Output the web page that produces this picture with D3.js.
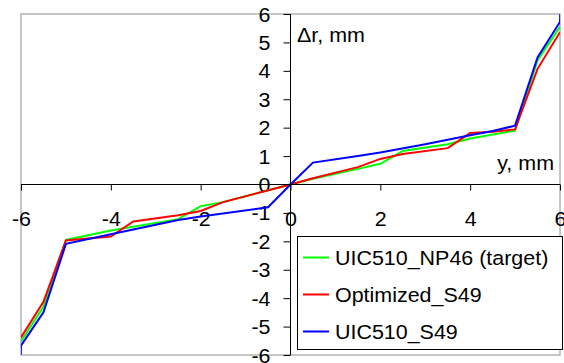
<!DOCTYPE html>
<html><head><meta charset="utf-8">
<script src="https://cdn.jsdelivr.net/npm/d3@7"></script>
<style>body{margin:0;background:#fff}svg{display:block}text{font-family:"Liberation Sans",Arial,sans-serif;font-size:19.5px;fill:#000}</style>
</head><body><svg id="c" width="564" height="363"></svg>
<script>
const xTicks = [-6,-4,-2,0,2,4,6];
const yTicks = [-6,-5,-4,-3,-2,-1,0,1,2,3,4,5,6];
const seriesNames = ["UIC510_NP46 (target)","Optimized_S49","UIC510_S49"];
const seriesColors = ["#00ff00","#ff0000","#0000ff"];
const targetX = [-6,-5.5,-5,-4,-2.5,-2,-1.5,0,0.5,1.5,2,2.5,3.5,4,5,5.5,6];
const targetY = [-5.52,-4.30,-1.95,-1.62,-1.22,-0.76,-0.62,0,0.2,0.55,0.73,1.18,1.42,1.62,1.90,4.37,5.55];
const optX = [-6,-5.5,-5,-4,-3.5,-2.5,-2,-1.5,0,0.5,1.5,2,2.5,3.5,4,4.5,5,5.5,6];
const optY = [-5.38,-4.13,-1.97,-1.83,-1.30,-1.08,-0.93,-0.62,0,0.22,0.61,0.90,1.07,1.28,1.81,1.86,1.94,4.07,5.36];
const s49X = [-6.02,-6,-5.5,-5,-4,-2.5,-2,-0.5,0,0.5,1.5,2,3,4,4.5,5,5.5,6,6.02];
const s49Y = [-6.5,-5.67,-4.50,-2.09,-1.75,-1.25,-1.13,-0.80,0,0.77,1.0,1.13,1.42,1.73,1.88,2.07,4.47,5.72,6.5];
const seriesX = [targetX, optX, s49X];
const seriesY = [targetY, optY, s49Y];

const SX = 1.1; // horizontal stretch of the reference glyphs
const svg = d3.select("#c");
const L=21,R=560,T=14,B=355;
const x = d3.scaleLinear().domain([-6,6]).range([L,R]);
const y = d3.scaleLinear().domain([-6,6]).range([B,T]);

svg.append("defs").append("clipPath").attr("id","pc").append("rect")
  .attr("x",L).attr("y",T).attr("width",R-L).attr("height",B-T);

svg.append("rect").attr("x",L).attr("y",T).attr("width",R-L).attr("height",B-T)
  .attr("fill","none").attr("stroke","#a0a0a0").attr("stroke-width",1.2);

const fmt = d => String(d);
// x axis at y=0
const xa = svg.append("g").attr("transform",`translate(0,${y(0)})`)
  .call(d3.axisBottom(x).tickValues(xTicks).tickSize(6).tickPadding(22).tickFormat(fmt));
xa.selectAll("text").attr("font-size",null).attr("font-family",null).attr("fill","#000")
  .attr("transform",`scale(${SX},1)`);
// y axis at x=0
const ya = svg.append("g").attr("transform",`translate(${x(0)},0)`)
  .call(d3.axisLeft(y).tickValues(yTicks).tickSize(7).tickFormat(fmt));
ya.selectAll("text").attr("font-size",null).attr("font-family",null).attr("fill","#000")
  .attr("x",-20/SX).attr("dy","0.36em").attr("transform",`scale(${SX},1)`);
svg.selectAll(".tick line").attr("stroke","#000");
svg.selectAll(".domain").remove();

const line = d3.line().x(d=>x(d[0])).y(d=>y(d[1]));
const g = svg.append("g").attr("clip-path","url(#pc)");
seriesX.forEach((xs,i)=>{
  g.append("path").datum(xs.map((v,j)=>[v,seriesY[i][j]]))
   .attr("d",line).attr("fill","none").attr("stroke",seriesColors[i]).attr("stroke-width",2);
});
svg.append("line").attr("x1",L).attr("x2",R).attr("y1",y(0)).attr("y2",y(0)).attr("stroke","#000");
svg.append("line").attr("x1",x(0)).attr("x2",x(0)).attr("y1",T).attr("y2",B).attr("stroke","#000");

svg.append("text").attr("transform",`translate(297,42) scale(${SX},1)`).text("Δr, mm");
svg.append("text").attr("transform",`translate(554,170) scale(${SX},1)`).attr("text-anchor","end").text("y, mm");

// legend
const lg = svg.append("g");
lg.append("rect").attr("x",297.5).attr("y",236.5).attr("width",265).attr("height",113)
  .attr("fill","#fff").attr("stroke","#000").attr("stroke-width",1);
seriesNames.forEach((n,i)=>{
  const cy = 257.5 + i*37;
  lg.append("line").attr("x1",303).attr("x2",329).attr("y1",cy).attr("y2",cy)
    .attr("stroke",seriesColors[i]).attr("stroke-width",2);
  lg.append("text").attr("transform",`translate(335,${cy}) scale(${SX},1)`).attr("dy","0.36em").text(n);
});
</script></body></html>
